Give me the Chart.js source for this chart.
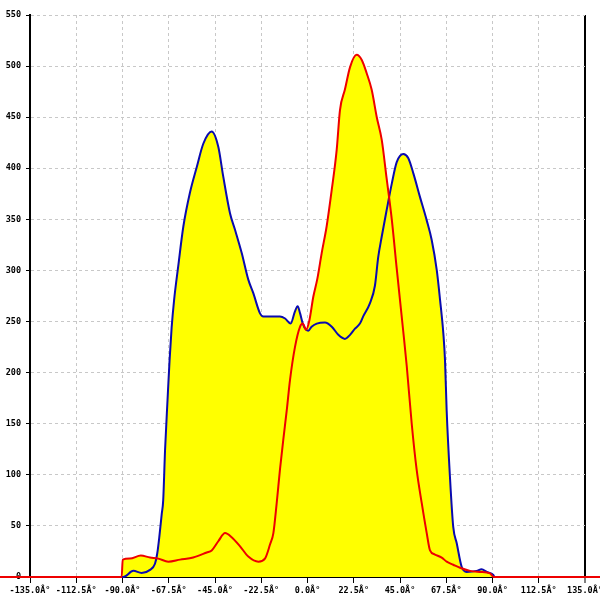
<!DOCTYPE html>
<html>
<head>
<meta charset="utf-8">
<script src="https://cdn.jsdelivr.net/npm/chart.js@4/dist/chart.umd.min.js"></script>
<style>
html,body{margin:0;padding:0;background:#fff;}
#wrap{width:600px;height:600px;position:relative;}
</style>
</head>
<body>
<div id="wrap"><canvas id="c"></canvas></div>
<script>
// Tick labels
const xTickValues = [-135, -112.5, -90, -67.5, -45, -22.5, 0, 22.5, 45, 67.5, 90, 112.5, 135];
const xTickSuffix = 'Â°';
const yTickValues = [0, 50, 100, 150, 200, 250, 300, 350, 400, 450, 500, 550];

// Blue series
const blueAngles = [-180, -90.5, -89.6, -84.7, -80.7, -76.6, -74.2, -73.1, -72.1, -70.9, -70.2, -69.3, -68.1, -67.1,
  -66.1, -64.9, -62.9, -60.4, -57.2, -53.9, -50.7, -46.6, -43.4, -41.0, -37.7, -35.3, -32.0, -28.8, -26.4,
  -23.1, -21.5, -13.4, -10.9, -8.2, -6.1, -4.8, -3.6, -2.3, -0.7, 0.4, 2.0, 4.5, 8.5, 11.8, 15.0, 18.2,
  20.7, 23.1, 25.5, 27.1, 30.4, 32.8, 34.4, 36.1, 38.5, 41.0, 43.4, 46.6, 49.0, 51.5, 54.7, 58.0, 60.4,
  62.9, 64.5, 66.1, 66.9, 67.7, 69.3, 70.9, 72.6, 75.0, 77.4, 82.3, 84.7, 87.2, 90.4, 91, 180];
const blueValues = [0, 0, 0, 6, 4, 7, 13, 23, 39, 62, 75, 124, 173, 212,
  244, 271, 304, 343, 376, 401, 424, 436, 421, 392, 356, 340, 317, 291, 278,
  258, 255, 255, 253, 248, 260, 265, 258, 248, 242, 241, 245, 248, 249, 245, 237, 233,
  237, 243, 248, 255, 268, 285, 313, 333, 359, 385, 406, 414, 410, 395, 372, 349, 330,
  300, 271, 238, 212, 163, 98, 49, 33, 10, 5, 6, 7.5, 5, 2, 0, 0];

// Red series
const redAngles = [-180, -90.4, -89.9, -86.4, -81.1, -76.6, -72.6, -67.7, -62.0, -55.6, -49.0, -46.6, -43.4,
  -40.1, -36.9, -32.8, -28.8, -23.9, -20.7, -18.2, -16.6, -15.0, -13.4, -11.8, -10.1, -8.5, -6.1, -3.6,
  -2.3, -0.7, 0.9, 2.8, 4.8, 6.9, 9.3, 11.8, 14.2, 15.8, 18.2, 20.7, 23.9, 26.4, 28.8, 31.2, 33.7, 36.1,
  38.5, 41.0, 43.4, 46.6, 48.3, 50.7, 53.1, 55.6, 58.0, 59.6, 62.0, 65.3, 67.7, 70.9, 74.2, 79.1,
  83.9, 88.8, 90.6, 180];
const redValues = [0, 0, 17, 18, 21, 19, 18, 15, 17, 19, 24, 26, 35,
  43, 39, 30, 20, 15, 18, 32, 43, 72, 105, 134, 163, 193, 225, 245,
  248, 242, 251, 274, 292, 317, 343, 379, 418, 457, 477, 499, 511, 506, 493, 477, 450, 428,
  390, 350, 302, 240, 206, 150, 105, 72, 43, 26, 22, 19, 15, 12, 9, 6,
  5, 3.6, 0, 0];

const toPoints = (xs, ys) => xs.map((x, i) => ({x: x, y: ys[i]}));
const FONT = {family: "'DejaVu Sans Mono', monospace", size: 8.5, weight: 'bold'};

new Chart(document.getElementById('c'), {
  type: 'line',
  data: {
    datasets: [
      {
        data: toPoints(redAngles, redValues),
        borderColor: '#ee0000',
        backgroundColor: '#ffff00',
        borderWidth: 2,
        fill: 'origin',
        pointRadius: 0,
        cubicInterpolationMode: 'monotone',
        clip: false
      },
      {
        data: toPoints(blueAngles, blueValues),
        borderColor: '#0a0ab0',
        backgroundColor: '#ffff00',
        borderWidth: 2,
        fill: 'origin',
        pointRadius: 0,
        cubicInterpolationMode: 'monotone',
        clip: false
      }
    ]
  },
  options: {
    responsive: true,
    maintainAspectRatio: false,
    animation: false,
    layout: {padding: {top: 15, right: 15, left: 0, bottom: 0}},
    plugins: {
      legend: {display: false},
      tooltip: {enabled: false},
      filler: {drawTime: 'beforeDatasetsDraw'}
    },
    scales: {
      x: {
        type: 'linear',
        min: xTickValues[0],
        max: xTickValues[xTickValues.length - 1],
        afterBuildTicks: (s) => { s.ticks = xTickValues.map(v => ({value: v})); },
        afterFit: (s) => { s.height = 23; s.paddingLeft = 0; s.paddingRight = 0; },
        ticks: {
          autoSkip: false,
          maxRotation: 0,
          minRotation: 0,
          padding: 3,
          color: '#000',
          font: FONT,
          callback: (v) => Number(v).toFixed(1) + xTickSuffix
        },
        grid: {
          color: (ctx) => (ctx.tick && ctx.tick.value === 135) ? '#000' : '#c8c8c8',
          lineWidth: (ctx) => (ctx.tick && ctx.tick.value === 135) ? 2 : 1,
          tickColor: '#000',
          tickLength: 6,
          tickWidth: 1
        },
        border: {
          display: true,
          color: '#000',
          width: 1,
          dash: (ctx) => (ctx.tick && ctx.tick.value === 135) ? [] : [3, 3]
        }
      },
      y: {
        min: yTickValues[0],
        max: yTickValues[yTickValues.length - 1],
        afterBuildTicks: (s) => { s.ticks = yTickValues.map(v => ({value: v})); },
        afterFit: (s) => { s.width = 30; },
        ticks: {
          padding: 5,
          color: '#000',
          font: FONT
        },
        grid: {
          color: '#c8c8c8',
          tickColor: '#000',
          tickLength: 4,
          tickWidth: 1
        },
        border: {
          display: true,
          color: '#000',
          width: 2,
          dash: [3, 3]
        }
      }
    }
  }
});
</script>
</body>
</html>
